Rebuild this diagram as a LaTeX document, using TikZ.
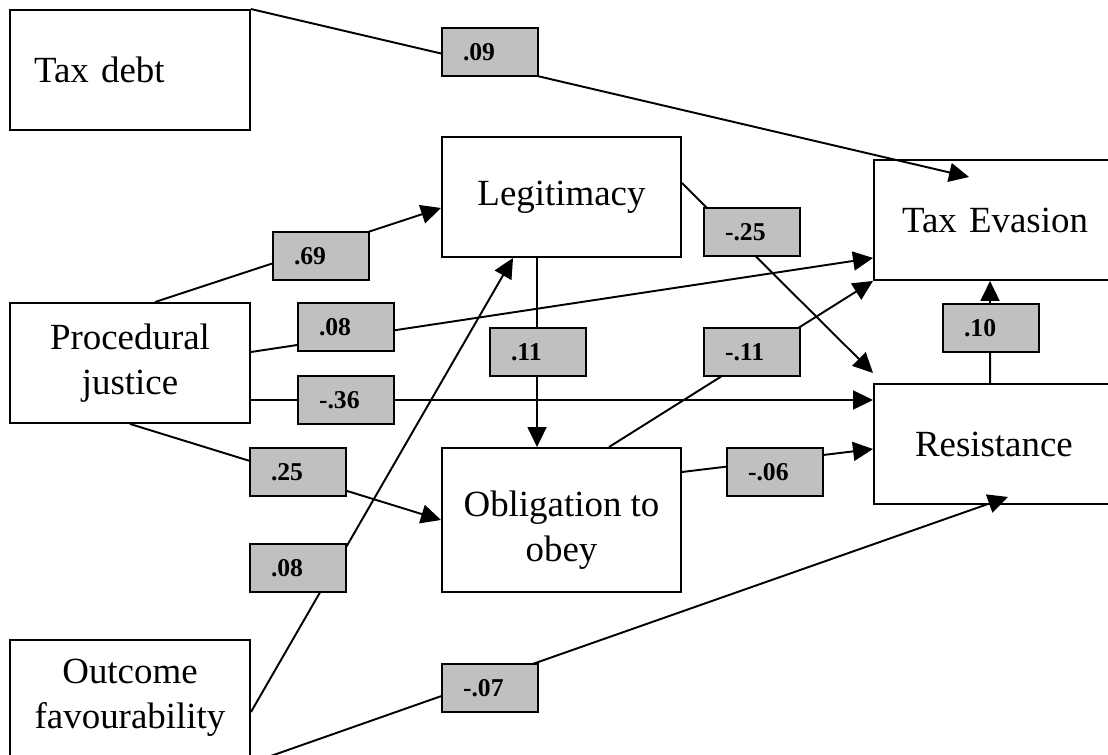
\documentclass[tikz,border=0pt]{standalone}
\usepackage{fontspec}
\setmainfont{Liberation Serif}
\usetikzlibrary{arrows.meta}
\definecolor{coefgray}{HTML}{C0C0C0}

\begin{document}
\begin{tikzpicture}[line width=1.1pt,
    >={Triangle[length=0.4cm,width=0.38cm]},
    var/.style = {draw, rectangle,
        minimum height = 2.4cm,
        align = center,
        font = \fontsize{21}{25.6}\selectfont},
    coef/.style = {draw, fill=coefgray,
        minimum height = 0.96cm,
        inner xsep = 0.42cm, text width = 1.08cm, align = left,
        font = \fontsize{14.6}{17}\selectfont\bfseries}]

\useasboundingbox (0,0) rectangle (22.16,15.10);
\clip (0,0) rectangle (22.16,15.10);

% Variables
\node[var,inner xsep=0.48cm,text width=3.84cm,align=left] (td) at (2.60,13.70) {Tax debt};
\node[var,minimum width=4.78cm] (leg) at (11.23,11.16) {Legitimacy};
\node[var,inner xsep=0.56cm,text width=4cm,align=left] (te) at (20.04,10.70) {Tax Evasion};
\node[var,minimum width=4.8cm] (pj) at (2.60,7.84) {Procedural\\justice};
\node[var,minimum width=4.78cm,minimum height=2.88cm] (ob) at (11.23,4.70) {\rule{0pt}{0.9cm}Obligation to\\obey};
\node[var,inner xsep=0.82cm,text width=3.48cm,align=left] (res) at (20.04,6.22) {Resistance};
\node[var,minimum width=4.8cm,minimum height=2.32cm] (of) at (2.60,1.14) {Outcome\\favourability};

% Paths
\draw[->] (td.north east) -- ([xshift=1.92cm,yshift=-0.36cm]te.north west);
\draw[->] ([xshift=0.5cm]pj.north) -- ([yshift=-0.22cm]leg.west);
\draw[->] ([yshift=0.22cm]pj.east) -- ([yshift=0.46cm]te.south west);
\draw[->] ([yshift=-0.74cm]pj.east) -- ([yshift=0.88cm]res.west);
\draw[->] (pj.south) -- (ob.west);
\draw[->] ([yshift=-0.28cm]of.east) -- ([xshift=1.44cm]leg.south west);
\draw[->] ([yshift=-0.12cm]of.south east) -- ([xshift=2.7cm,yshift=0.16cm]res.south west);
\draw[->] ([xshift=1.92cm]leg.south west) -- ([xshift=1.92cm]ob.north west);
\draw[->] ([yshift=0.28cm]leg.east) -- ([yshift=0.2cm]res.north west);
\draw[->] ([xshift=3.36cm]ob.north west) -- (te.south west);
\draw[->] ([xshift=2.34cm]res.north west) -- ([xshift=2.34cm]te.south west);
\draw[->] ([yshift=0.96cm]ob.east) -- ([yshift=-0.1cm]res.west);

% Coefficients
\node[coef] (l09) at (9.80,14.06) {.09};
\node[coef] (l69) at (6.42,9.98) {.69};
\node[coef] (l08a) at (6.92,8.56) {.08};
\node[coef] (l11) at (10.76,8.06) {.11};
\node[coef] (lm25) at (15.04,10.46) {-.25};
\node[coef] (lm11) at (15.04,8.06) {-.11};
\node[coef] (l10) at (19.82,8.54) {.10};
\node[coef] (lm36) at (6.92,7.10) {-.36};
\node[coef] (l25) at (5.96,5.66) {.25};
\node[coef] (l08b) at (5.96,3.74) {.08};
\node[coef] (lm07) at (9.80,1.34) {-.07};
\node[coef] (lm06) at (15.50,5.66) {-.06};
\end{tikzpicture}
\end{document}
